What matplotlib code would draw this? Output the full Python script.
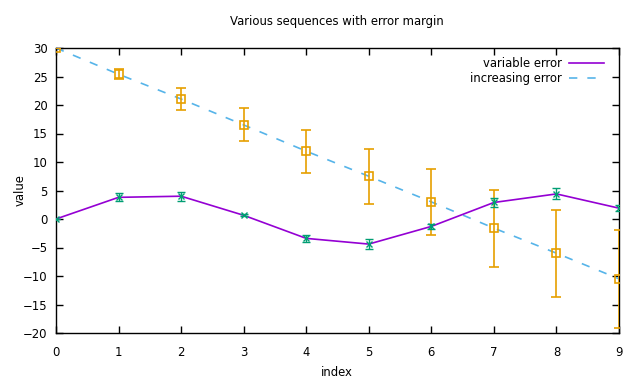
import matplotlib
matplotlib.use("Agg")
import matplotlib.pyplot as plt
from matplotlib.lines import Line2D

index = list(range(10))
var_vals = [0.0, 3.8, 4.0, 0.65, -3.4, -4.4, -1.3, 2.9, 4.4, 1.9]
var_err = [0.0, 0.7, 0.8, 0.15, 0.65, 0.95, 0.5, 0.73, 0.96, 0.47]
inc_vals = [30.0, 25.4, 21.05, 16.5, 11.9, 7.5, 3.0, -1.6, -6.0, -10.5]
inc_err = [0.0, 0.9, 1.85, 2.9, 3.8, 4.8, 5.8, 6.75, 7.6, 8.6]
xticks = list(range(10))
yticks = list(range(-20, 31, 5))

purple = "#9400D3"
green = "#009E73"
blue = "#56B4E9"
orange = "#E69F00"

FS = 8.4
plt.rcParams['font.family'] = ['DejaVu Sans']
fig = plt.figure(figsize=(6.4, 3.84), dpi=100)
ax = fig.add_axes([56/640, 1-333/384, (619-56)/640, (333-48)/384])

# variable error
ax.plot(index, var_vals, color=purple, lw=1.2, zorder=3)
ax.errorbar(index, var_vals, yerr=var_err, fmt='x', color=green, ms=5, mew=1.0,
            elinewidth=1.0, capsize=3, capthick=1.0, zorder=4)
# increasing error
ax.plot(index, inc_vals, color=blue, lw=1.2, dashes=(5, 6), zorder=2)
ax.errorbar(index, inc_vals, yerr=inc_err, fmt='s', color=orange, ms=6, mfc='none',
            mew=1.2, elinewidth=1.2, capsize=3.5, capthick=1.2, zorder=3)

ax.set_xlim(0, 9)
ax.set_ylim(-20, 30)
ax.set_xticks(xticks)
ax.set_yticks(yticks)
ax.tick_params(direction='in', top=True, right=True, length=5, width=1, labelsize=FS)
ax.tick_params(axis='x', pad=9)
ax.tick_params(axis='y', pad=6)
for s in ax.spines.values():
    s.set_linewidth(1)

fig.text(337/640, 1-22/384, "Various sequences with error margin", fontsize=FS,
         ha='center', va='center')
fig.text(337/640, 1-372/384, "index", fontsize=FS, ha='center', va='center')
fig.text(20/640, 1-190/384, "value", fontsize=FS, ha='center', va='center', rotation=90)

handles = [Line2D([], [], color=purple, lw=1.2),
           Line2D([], [], color=blue, lw=1.2, dashes=(5, 6))]
ax.legend(handles, ["variable error", "increasing error"], loc='upper right',
          frameon=False, markerfirst=False, fontsize=FS, handlelength=3.0,
          handletextpad=0.6, labelspacing=0.2, borderaxespad=0.0,
          bbox_to_anchor=(606/563 - 56/563 + 0.004, 1.0 - 4/285))

fig.savefig("out.png", dpi=100)
